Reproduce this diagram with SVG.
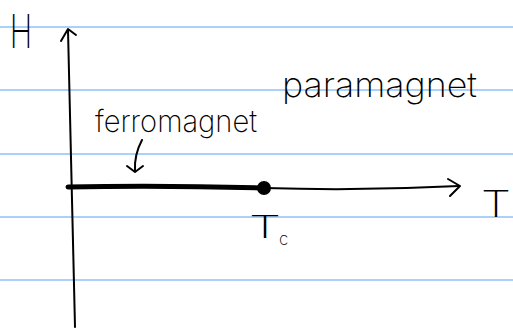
<svg xmlns="http://www.w3.org/2000/svg" width="513" height="332" viewBox="0 0 513 332">
<style>
.rule{stroke:#a9d1fb;stroke-width:2;fill:none}
.ink{stroke:#000;fill:none;stroke-width:2;stroke-linecap:round;stroke-linejoin:round}
.hand{font-family:"Inter","Noto Sans",sans-serif;font-weight:200;fill:#000}
</style>
<rect width="513" height="332" fill="#fff"/>
<g id="paper">
<line class="rule" x1="0" y1="27" x2="513" y2="27"/>
<line class="rule" x1="0" y1="90" x2="513" y2="90"/>
<line class="rule" x1="0" y1="154" x2="513" y2="154"/>
<line class="rule" x1="0" y1="217" x2="513" y2="217"/>
<line class="rule" x1="0" y1="280" x2="513" y2="280"/>
</g>
<g id="connectors">
<path id="h-axis-shaft" class="ink" d="M68,30 Q71,180 75,327"/>
<path id="h-axis-head" class="ink" d="M61,41 L68,29 L76,35"/>
<path id="t-axis" class="ink" d="M264,188 Q360,191 459,186"/>
<path id="t-axis-head" class="ink" d="M448,179 L460,186 L450,196"/>
<path id="ferro-arrow" class="ink" d="M142,140 Q134,155 135,171"/>
<path id="ferro-arrow-head" class="ink" d="M127,166 L135,172 L143,166"/>
</g>
<g id="ferro-line">
<path d="M68,187 Q160,185 262,188" stroke="#000" stroke-width="5" fill="none" stroke-linecap="round"/>
<circle cx="264" cy="188" r="7" fill="#000"/>
</g>
<g id="label-H"><text class="hand" x="21" y="48" font-size="47" text-anchor="middle" transform="translate(21,0) scale(0.65,1) translate(-21,0)">H</text></g>
<g id="label-T"><text class="hand" x="481" y="217" font-size="36" textLength="30" lengthAdjust="spacingAndGlyphs">T</text></g>
<g id="label-Tc"><text class="hand" x="249" y="238" font-size="31" textLength="32" lengthAdjust="spacingAndGlyphs">T</text><text class="hand" x="279" y="245" font-size="17">c</text></g>
<g id="label-ferromagnet"><text class="hand" x="95" y="132" font-size="30" textLength="162" lengthAdjust="spacingAndGlyphs">ferromagnet</text></g>
<g id="label-paramagnet"><text class="hand" x="282" y="97" font-size="34" textLength="195" lengthAdjust="spacingAndGlyphs">paramagnet</text></g>
</svg>
